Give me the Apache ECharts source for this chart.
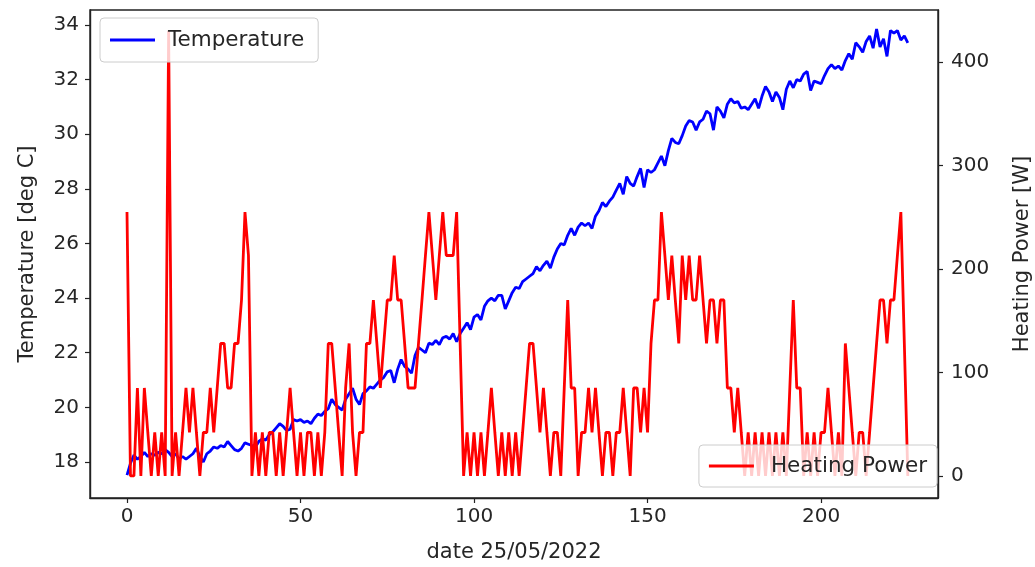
<!DOCTYPE html>
<html><head><meta charset="utf-8">
<script src="https://cdn.jsdelivr.net/npm/echarts@6/dist/echarts.min.js"></script>
<style>html,body{margin:0;padding:0;background:#fff}#c{width:1035px;height:567px}</style>
</head><body><div id="c"></div>
<script>
// Temperature [deg C], one reading per sample index (0..225)
const temperature = [
 17.52,17.95,18.25,18.1,18.2,18.35,18.2,18.3,18.25,18.35,
 18.3,18.45,18.35,18.2,18.3,18.1,18.2,18.1,18.2,18.3,
 18.5,18.2,18.0,18.3,18.4,18.55,18.5,18.6,18.55,18.75,
 18.6,18.45,18.4,18.5,18.7,18.65,18.6,18.55,18.75,18.85,
 18.8,19.0,19.1,19.25,19.4,19.3,19.15,19.2,19.55,19.5,
 19.55,19.45,19.5,19.4,19.6,19.75,19.7,19.85,19.95,20.3,
 20.1,20.0,19.9,20.3,20.5,20.7,20.3,20.1,20.5,20.6,
 20.75,20.7,20.85,21.0,21.1,21.3,21.35,20.9,21.4,21.75,
 21.5,21.4,21.25,21.9,22.2,22.1,22.0,22.35,22.3,22.45,
 22.3,22.55,22.6,22.5,22.7,22.4,22.7,22.9,23.1,22.85,
 23.3,23.4,23.2,23.7,23.9,24.0,23.9,24.1,24.1,23.6,
 23.9,24.2,24.4,24.35,24.6,24.7,24.8,24.9,25.15,25.0,
 25.2,25.35,25.1,25.5,25.8,26.0,25.95,26.3,26.55,26.3,
 26.6,26.75,26.65,26.75,26.55,27.0,27.2,27.5,27.35,27.55,
 27.7,27.95,28.2,27.8,28.45,28.2,28.1,28.45,28.75,28.05,
 28.7,28.6,28.7,28.95,29.2,28.85,29.4,29.85,29.7,29.65,
 29.95,30.3,30.5,30.45,30.15,30.45,30.55,30.85,30.75,30.15,
 31.0,30.85,30.6,31.1,31.3,31.15,31.2,30.95,31.0,30.9,
 31.1,31.3,30.95,31.4,31.75,31.55,31.2,31.55,31.35,30.9,
 31.65,31.95,31.7,32.0,31.95,32.2,32.3,31.6,31.95,31.9,
 31.85,32.15,32.4,32.55,32.4,32.5,32.35,32.7,32.95,32.75,
 33.35,33.2,33.0,33.4,33.6,33.15,33.85,33.2,33.5,32.85,
 33.8,33.7,33.8,33.45,33.6,33.35
];
// Heating Power [W], one reading per sample index (0..225)
const heatingPower = [
 255,0,0,85,0,85,42,0,42,0,
 42,0,430,0,42,0,42,85,42,85,
 42,0,42,42,85,42,85,128,128,85,
 85,128,128,170,255,213,0,42,0,42,
 0,42,42,0,42,0,42,85,42,0,
 42,0,42,42,0,42,0,42,128,128,
 85,42,0,85,128,42,0,42,42,128,
 128,170,128,85,128,170,170,213,170,170,
 128,85,85,85,128,170,213,255,213,170,
 213,255,213,213,213,255,128,0,42,0,
 42,0,42,0,42,85,42,0,42,0,
 42,0,42,0,42,85,128,128,85,42,
 85,42,0,42,42,0,85,170,85,85,
 0,42,42,85,42,85,42,0,42,42,
 0,42,42,85,42,0,85,85,42,85,
 42,128,170,170,255,213,170,213,170,128,
 213,170,213,170,170,213,170,128,170,170,
 128,170,170,85,85,42,85,42,0,42,
 0,42,0,42,0,42,0,42,0,42,
 0,85,170,85,85,0,42,0,42,0,
 42,42,85,42,0,42,0,128,85,42,
 0,42,42,0,42,85,128,170,170,128,
 170,170,213,255,128,0
];
const xTicks = [0,50,100,150,200];
const tempTicks = [18,20,22,24,26,28,30,32,34];
const powerTicks = [0,100,200,300,400];

const FONT = 'DejaVu Sans';
const TXT = '#262626';
const AX = '#222';

const chart = echarts.init(document.getElementById('c'), null, {renderer:'canvas'});
const tempData = temperature.map((v,i)=>[i,v]);
const powerData = heatingPower.map((v,i)=>[i,v]);

chart.setOption({
  animation:false,
  backgroundColor:'#fff',
  grid:{left:90,right:97,top:10,bottom:69,outerBoundsMode:'none',containLabel:false,
        show:true,borderColor:AX,borderWidth:1.4,backgroundColor:'transparent'},
  xAxis:{
    type:'value',min:-10.66,max:233.7,
    name:'date 25/05/2022',nameLocation:'middle',nameGap:44,
    nameTextStyle:{fontFamily:FONT,fontSize:21,color:TXT},
    axisLine:{show:true,onZero:false,lineStyle:{color:AX,width:1.4}},
    axisTick:{show:true,customValues:xTicks,length:5,lineStyle:{color:AX,width:1.2}},
    axisLabel:{customValues:xTicks,fontFamily:FONT,fontSize:20,color:TXT,margin:9},
    splitLine:{show:false}
  },
  yAxis:[{
    type:'value',position:'left',min:16.68,max:34.55,
    name:'Temperature [deg C]',nameLocation:'middle',nameGap:52,nameRotate:90,
    nameTextStyle:{fontFamily:FONT,fontSize:21,color:TXT},
    axisLine:{show:true,onZero:false,lineStyle:{color:AX,width:1.4}},
    axisTick:{show:true,customValues:tempTicks,length:5,lineStyle:{color:AX,width:1.2}},
    axisLabel:{customValues:tempTicks,fontFamily:FONT,fontSize:20,color:TXT,margin:11},
    splitLine:{show:false}
  },{
    type:'value',position:'right',min:-21.3,max:450.2,
    name:'Heating Power [W]',nameLocation:'middle',nameGap:74,nameRotate:90,
    nameTextStyle:{fontFamily:FONT,fontSize:21,color:TXT},
    axisLine:{show:true,onZero:false,lineStyle:{color:AX,width:1.4}},
    axisTick:{show:true,customValues:powerTicks,length:5,lineStyle:{color:AX,width:1.2}},
    axisLabel:{customValues:powerTicks,fontFamily:FONT,fontSize:20,color:TXT,margin:13},
    splitLine:{show:false}
  }],
  legend:[{
    data:['Temperature'],left:100,top:18,
    backgroundColor:'rgba(255,255,255,0.8)',borderColor:'#cccccc',borderWidth:1,borderRadius:4,
    padding:[11,14,11,10],itemWidth:45,itemHeight:3,icon:'rect',
    textStyle:{fontFamily:FONT,fontSize:21.5,color:TXT,padding:[0,0,0,8]}
  },{
    data:['Heating Power'],right:98,top:445,
    backgroundColor:'rgba(255,255,255,0.8)',borderColor:'#cccccc',borderWidth:1,borderRadius:4,
    padding:[10,10,10,10],itemWidth:45,itemHeight:3,icon:'rect',
    textStyle:{fontFamily:FONT,fontSize:21.5,color:TXT,padding:[0,0,0,12]}
  }],
  series:[{
    name:'Temperature',type:'line',yAxisIndex:0,data:tempData,
    showSymbol:false,symbol:'none',color:'#0000ff',
    lineStyle:{color:'#0000ff',width:2.8},z:2
  },{
    name:'Heating Power',type:'line',yAxisIndex:1,data:powerData,
    showSymbol:false,symbol:'none',color:'#ff0000',
    lineStyle:{color:'#ff0000',width:2.8},z:3
  }]
});
</script>
</body></html>
